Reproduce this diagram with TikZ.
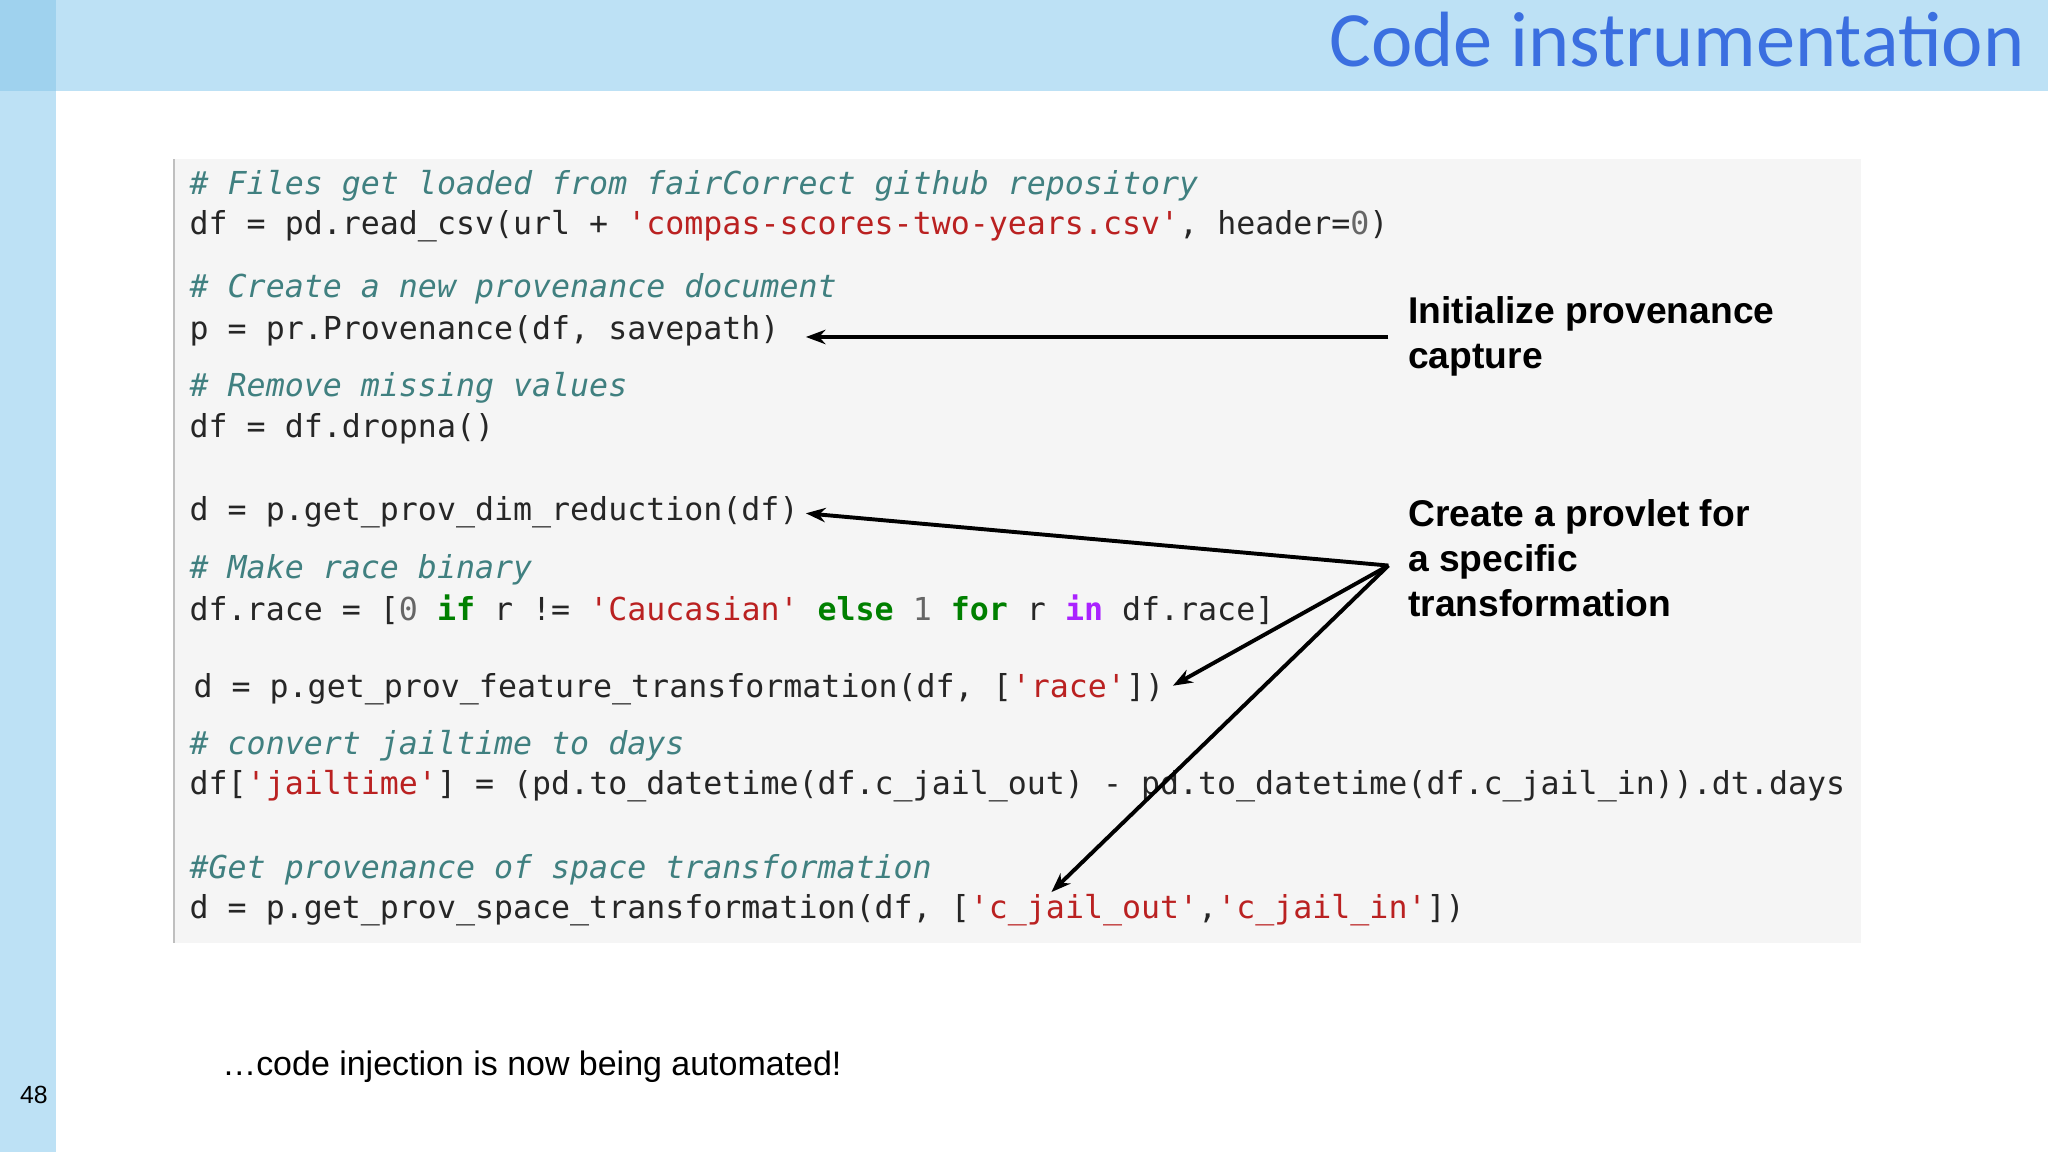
\documentclass[tikz,border=0pt]{standalone}
\usepackage{fontspec}
\setmainfont{Liberation Sans}
\setmonofont{DejaVu Sans Mono}
\newfontfamily\titlefont{Carlito}
\usetikzlibrary{arrows.meta}
\definecolor{barblue}{HTML}{BDE1F5}
\definecolor{cornerblue}{HTML}{9FD2EE}
\definecolor{titleblue}{HTML}{3B6FE0}
\definecolor{codebg}{HTML}{F5F5F5}
\definecolor{cm}{HTML}{408080}
\definecolor{st}{HTML}{BA2121}
\definecolor{kw}{HTML}{008000}
\definecolor{kp}{HTML}{AA22FF}
\definecolor{nm}{HTML}{666666}
\newcommand{\Cm}[1]{{\color{cm}\itshape #1}}
\newcommand{\St}[1]{{\color{st}#1}}
\newcommand{\Kw}[1]{{\color{kw}\bfseries #1}}
\newcommand{\Kp}[1]{{\color{kp}\bfseries #1}}
\newcommand{\Nm}[1]{{\color{nm}#1}}
\tikzset{
  code/.style={anchor=west,inner sep=0pt,font=\ttfamily\fontsize{24.2}{26}\selectfont,text=black!85},
  note/.style={anchor=north west,inner sep=0pt,align=left,font=\bfseries\fontsize{28.5}{34.5}\selectfont},
  arr/.style={line width=3pt,-{Stealth[length=15pt,width=11pt]}}
}
\begin{document}
\begin{tikzpicture}[x=1pt,y=-1pt]
\useasboundingbox (0,0) rectangle (1568,882);
\fill[white] (0,0) rectangle (1568,882);
\fill[barblue] (0,0) rectangle (1568,70);
\fill[barblue] (0,0) rectangle (43,882);
\fill[cornerblue] (0,0) rectangle (43,70);
\node[anchor=east,inner sep=0pt,text=titleblue,font=\titlefont\fontsize{60}{64}\selectfont] (title) at (1550,30) {Code instrumentation};
\fill[codebg] (133,122) rectangle (1425,722);
\draw[black!25,line width=1.5pt] (133,122) -- (133,722);
\node[code] (l1) at (145,142) {\Cm{\# Files get loaded from fairCorrect github repository}};
\node[code] (l2) at (145,173) {df = pd.read\_csv(url + \St{'compas-scores-two-years.csv'}, header=\Nm{0})};
\node[code] (l3) at (145,221) {\Cm{\# Create a new provenance document}};
\node[code] (l4) at (145,253) {p = pr.Provenance(df, savepath)};
\node[code] (l5) at (145,297) {\Cm{\# Remove missing values}};
\node[code] (l6) at (145,328) {df = df.dropna()};
\node[code] (l7) at (145,392) {d = p.get\_prov\_dim\_reduction(df)};
\node[code] (l8) at (145,436) {\Cm{\# Make race binary}};
\node[code] (l9) at (145,467) {df.race = [\Nm{0} \Kw{if} r != \St{'Caucasian'} \Kw{else} \Nm{1} \Kw{for} r \Kp{in} df.race]};
\node[code] (l10) at (148,528) {d = p.get\_prov\_feature\_transformation(df, [\St{'race'}])};
\node[code] (l11) at (145,571) {\Cm{\# convert jailtime to days}};
\node[code] (l12) at (145,602) {df[\St{'jailtime'}] = (pd.to\_datetime(df.c\_jail\_out) - pd.to\_datetime(df.c\_jail\_in)).dt.days};
\node[code] (l13) at (145,666) {\Cm{\#Get provenance of space transformation}};
\node[code] (l14) at (145,697) {d = p.get\_prov\_space\_transformation(df, [\St{'c\_jail\_out'},\St{'c\_jail\_in'}])};
\node[note] (n1) at (1078,227) {Initialize provenance\\capture};
\node[note] (n2) at (1078,382) {Create a provlet for\\a specific\\transformation};
\coordinate (h1) at (1063,258);
\coordinate (h2) at (1063,433);
\coordinate (t1) at (617,258);
\coordinate (t2) at (617,393);
\coordinate (t3) at (898,525);
\coordinate (t4) at (805,683);
\draw[arr] (h1) -- (t1);
\draw[arr] (h2) -- (t2);
\draw[arr] (h2) -- (t3);
\draw[arr] (h2) -- (t4);
\node[anchor=west,inner sep=0pt,font=\fontsize{26}{30}\selectfont] (foot) at (170,817) {…code injection is now being automated!};
\node[inner sep=0pt,font=\fontsize{19}{22}\selectfont] (num) at (26,838) {48};
\end{tikzpicture}
\end{document}
